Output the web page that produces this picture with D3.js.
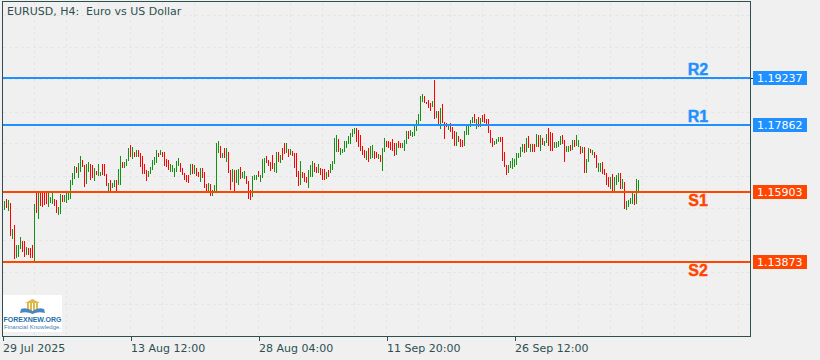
<!DOCTYPE html>
<html>
<head>
<meta charset="utf-8">
<style>
  html, body { margin: 0; padding: 0; background: #f0f0f0; }
  svg { display: block; }
  text { white-space: pre; font-family: "DejaVu Sans", sans-serif; }
</style>
<script src="https://cdn.jsdelivr.net/npm/d3@7/dist/d3.min.js"></script>
</head>
<body>
<svg width="820" height="360"></svg>
<script>
var title = "EURUSD, H4:  Euro vs US Dollar";

// bar high / low, 10 bars a row
var highs = [
  1.1565,1.1571,1.1568,1.1559,1.1483,1.1496,1.1437,1.1437,1.1460,1.1448,
  1.1448,1.1431,1.1428,1.1428,1.1437,1.1556,1.1588,1.1594,1.1594,1.1588,
  1.1588,1.1588,1.1588,1.1577,1.1588,1.1571,1.1568,1.1547,1.1585,1.1582,
  1.1582,1.1588,1.1588,1.1626,1.1647,1.1667,1.1664,1.1676,1.1696,1.1685,
  1.1670,1.1673,1.1679,1.1673,1.1670,1.1661,1.1652,1.1673,1.1650,1.1673,
  1.1673,1.1644,1.1617,1.1626,1.1617,1.1626,1.1626,1.1658,1.1696,1.1679,
  1.1679,1.1687,1.1720,1.1728,1.1722,1.1708,1.1714,1.1714,1.1705,1.1696,
  1.1673,1.1655,1.1652,1.1664,1.1685,1.1693,1.1714,1.1705,1.1714,1.1708,
  1.1708,1.1687,1.1685,1.1673,1.1670,1.1661,1.1682,1.1690,1.1676,1.1661,
  1.1647,1.1641,1.1641,1.1673,1.1673,1.1670,1.1661,1.1650,1.1661,1.1661,
  1.1650,1.1615,1.1617,1.1615,1.1597,1.1612,1.1734,1.1740,1.1725,1.1705,
  1.1720,1.1720,1.1708,1.1655,1.1658,1.1655,1.1655,1.1658,1.1664,1.1650,
  1.1652,1.1638,1.1623,1.1597,1.1638,1.1641,1.1641,1.1652,1.1641,1.1687,
  1.1690,1.1696,1.1685,1.1679,1.1699,1.1676,1.1708,1.1708,1.1699,1.1720,
  1.1734,1.1734,1.1717,1.1717,1.1711,1.1705,1.1705,1.1652,1.1682,1.1650,
  1.1647,1.1635,1.1655,1.1670,1.1682,1.1676,1.1664,1.1673,1.1661,1.1658,
  1.1658,1.1650,1.1655,1.1673,1.1682,1.1749,1.1757,1.1746,1.1720,1.1717,
  1.1740,1.1740,1.1755,1.1763,1.1775,1.1778,1.1778,1.1772,1.1757,1.1725,
  1.1714,1.1711,1.1720,1.1725,1.1728,1.1711,1.1708,1.1702,1.1699,1.1720,
  1.1749,1.1740,1.1740,1.1737,1.1746,1.1734,1.1734,1.1740,1.1734,1.1734,
  1.1743,1.1769,1.1769,1.1772,1.1766,1.1787,1.1801,1.1819,1.1871,1.1877,
  1.1871,1.1854,1.1860,1.1851,1.1857,1.1918,1.1827,1.1827,1.1836,1.1848,
  1.1795,1.1792,1.1790,1.1792,1.1781,1.1769,1.1766,1.1755,1.1746,1.1743,
  1.1769,1.1787,1.1787,1.1801,1.1810,1.1819,1.1804,1.1810,1.1807,1.1816,
  1.1819,1.1804,1.1804,1.1772,1.1749,1.1740,1.1746,1.1752,1.1752,1.1752,
  1.1708,1.1670,1.1670,1.1682,1.1690,1.1687,1.1705,1.1705,1.1722,1.1731,
  1.1731,1.1749,1.1755,1.1731,1.1731,1.1731,1.1760,1.1757,1.1757,1.1749,
  1.1740,1.1760,1.1778,1.1766,1.1763,1.1737,1.1737,1.1740,1.1755,1.1757,
  1.1743,1.1725,1.1725,1.1728,1.1743,1.1743,1.1757,1.1743,1.1725,1.1722,
  1.1722,1.1687,1.1720,1.1717,1.1714,1.1708,1.1699,1.1676,1.1676,1.1679,
  1.1658,1.1647,1.1635,1.1635,1.1644,1.1635,1.1641,1.1647,1.1647,1.1629,
  1.1620,1.1565,1.1568,1.1574,1.1588,1.1585,1.1629,1.1626
];
var lows = [
  1.1539,1.1545,1.1536,1.1463,1.1454,1.1396,1.1399,1.1402,1.1425,1.1416,
  1.1402,1.1408,1.1408,1.1399,1.1399,1.1390,1.1530,1.1513,1.1550,1.1547,
  1.1553,1.1556,1.1547,1.1559,1.1556,1.1550,1.1530,1.1524,1.1527,1.1562,
  1.1562,1.1559,1.1568,1.1571,1.1612,1.1629,1.1647,1.1632,1.1650,1.1664,
  1.1606,1.1615,1.1650,1.1626,1.1632,1.1623,1.1641,1.1638,1.1638,1.1641,
  1.1638,1.1609,1.1594,1.1594,1.1603,1.1606,1.1594,1.1612,1.1612,1.1661,
  1.1661,1.1667,1.1682,1.1693,1.1687,1.1693,1.1693,1.1693,1.1664,1.1644,
  1.1644,1.1623,1.1635,1.1644,1.1655,1.1670,1.1676,1.1693,1.1699,1.1693,
  1.1667,1.1664,1.1655,1.1650,1.1650,1.1635,1.1650,1.1667,1.1650,1.1641,
  1.1626,1.1620,1.1617,1.1641,1.1644,1.1644,1.1638,1.1635,1.1620,1.1632,
  1.1603,1.1591,1.1594,1.1580,1.1580,1.1591,1.1588,1.1705,1.1690,1.1690,
  1.1690,1.1679,1.1647,1.1597,1.1620,1.1594,1.1617,1.1612,1.1629,1.1632,
  1.1629,1.1615,1.1571,1.1568,1.1577,1.1626,1.1626,1.1635,1.1620,1.1632,
  1.1647,1.1676,1.1667,1.1652,1.1658,1.1650,1.1647,1.1679,1.1676,1.1685,
  1.1702,1.1705,1.1693,1.1699,1.1696,1.1661,1.1635,1.1609,1.1612,1.1632,
  1.1620,1.1617,1.1603,1.1635,1.1635,1.1650,1.1647,1.1647,1.1641,1.1626,
  1.1626,1.1629,1.1635,1.1647,1.1655,1.1673,1.1708,1.1708,1.1699,1.1705,
  1.1708,1.1720,1.1731,1.1731,1.1752,1.1760,1.1737,1.1722,1.1711,1.1699,
  1.1690,1.1685,1.1679,1.1687,1.1690,1.1687,1.1690,1.1687,1.1679,1.1652,
  1.1708,1.1722,1.1720,1.1714,1.1711,1.1696,1.1699,1.1720,1.1720,1.1720,
  1.1711,1.1731,1.1746,1.1755,1.1752,1.1755,1.1769,1.1787,1.1798,1.1854,
  1.1851,1.1848,1.1836,1.1827,1.1839,1.1804,1.1807,1.1787,1.1775,1.1792,
  1.1746,1.1781,1.1772,1.1766,1.1746,1.1725,1.1725,1.1737,1.1722,1.1722,
  1.1725,1.1757,1.1757,1.1781,1.1792,1.1792,1.1775,1.1781,1.1781,1.1795,
  1.1792,1.1790,1.1763,1.1734,1.1722,1.1728,1.1731,1.1737,1.1737,1.1682,
  1.1664,1.1641,1.1647,1.1661,1.1658,1.1664,1.1670,1.1690,1.1693,1.1708,
  1.1705,1.1708,1.1720,1.1708,1.1708,1.1708,1.1722,1.1722,1.1711,1.1728,
  1.1725,1.1734,1.1725,1.1711,1.1711,1.1720,1.1720,1.1722,1.1728,1.1731,
  1.1679,1.1708,1.1708,1.1711,1.1714,1.1722,1.1725,1.1722,1.1702,1.1705,
  1.1647,1.1647,1.1679,1.1705,1.1699,1.1690,1.1661,1.1650,1.1650,1.1644,
  1.1641,1.1612,1.1606,1.1600,1.1594,1.1594,1.1612,1.1620,1.1600,1.1600,
  1.1542,1.1539,1.1547,1.1556,1.1556,1.1553,1.1556,1.1588
];
// G = green bar, R = red bar
var directions = (
  "GRGRGRGGGR" + "RGRRRGRGRR" + "RRGGGRRGGR" + "GGGGGGRGGR" +
  "RGGRRGRGGR" + "RRGRGGRGGR" + "GGGRGRGRRR" + "RRGGGGGRGR" +
  "RRRGGGGGRR" + "RRRGRGRRGR" + "RRGRGGGGRG" + "RGRRGRGGRG" +
  "GRRRGGGRGG" + "GRRRRGGRGR" + "RGRGRRRRGR" + "RRGGGRRGRR" +
  "RGRGGGGRGG" + "GGGGGGRRRR" + "RGRGGRRGRG" + "GRRRRRGRRG" +
  "GGRGGGGGGG" + "RRRRGRGRGR" + "RRGRRRGRRR" + "GGGGGRGRGR" +
  "RRRRRGGGRR" + "RRGGGGGGGG" + "RGRGRRGRGR" + "GGRRRGGGGR" +
  "RGGRGRGGRG" + "RGGRGRRGGR" + "RRRGRGGGRG" + "RGGGGRGG"
).split("");

var levelNames = ["R2", "R1", "S1", "S2"];
var levelValues = [1.19237, 1.17862, 1.15903, 1.13873];
var levelLabels = ["1.19237", "1.17862", "1.15903", "1.13873"];
var levelColors = ["#1E90FF", "#1E90FF", "#FF4500", "#FF4500"];

var timeTicks = [-1, 63, 127, 191, 255];
var timeLabels = ["29 Jul 2025", "13 Aug 12:00", "28 Aug 04:00", "11 Sep 20:00", "26 Sep 12:00"];
var gridBars = [15, 31, 47, 63, 79, 95, 111, 127, 143, 159, 175, 191, 207, 223, 239, 255, 271, 287, 303, 319, 335, 351, 367];
var gridPrices = [1.2107, 1.2013, 1.1920, 1.1826, 1.1733, 1.1639, 1.1545, 1.1451, 1.1358, 1.1264];

var frameColor = "#2F4F4F";
var left = 2.5, right = 750.5, top_ = 1.5, bottom = 336.5;

var svg = d3.select("svg");

var xScale = d3.scaleLinear().domain([0, 317]).range([4.5, 638.5]);
var yScale = d3.scaleLinear().domain([1.19237, 1.13873]).range([78, 262]);
// level lines sit on whole pixels
var levelY = (d) => Math.round(yScale(d) + 0.12);

// grid
svg.append("g").selectAll("line").data(gridBars).enter().append("line")
  .attr("x1", (d) => xScale(d)).attr("x2", (d) => xScale(d))
  .attr("y1", top_).attr("y2", bottom)
  .style("stroke", "#e6e6e6").style("stroke-dasharray", "3,3")
  .style("shape-rendering", "crispEdges");
svg.append("g").selectAll("line").data(gridPrices).enter().append("line")
  .attr("x1", left).attr("x2", right)
  .attr("y1", (d) => Math.round(yScale(d)) + 0.5).attr("y2", (d) => Math.round(yScale(d)) + 0.5)
  .style("stroke", "#e6e6e6").style("stroke-dasharray", "3,3")
  .style("shape-rendering", "crispEdges");

// bars
svg.append("g").selectAll("line").data(highs).enter().append("line")
  .attr("x1", (d, i) => xScale(i)).attr("x2", (d, i) => xScale(i))
  .attr("y1", (d) => yScale(d)).attr("y2", (d, i) => yScale(lows[i]))
  .style("stroke", (d, i) => directions[i] == "G" ? "#159015" : "#FF0000")
  .style("stroke-width", "1px")
  .style("shape-rendering", "crispEdges");

// support / resistance lines
svg.append("g").selectAll("line").data(levelValues).enter().append("line")
  .attr("x1", left).attr("x2", right)
  .attr("y1", levelY).attr("y2", levelY)
  .style("stroke", (d, i) => levelColors[i])
  .style("stroke-width", "2px");

svg.append("g").selectAll("text").data(levelNames).enter().append("text")
  .attr("x", 698)
  .attr("y", (d, i) => levelY(levelValues[i]) + (i < 2 ? -3 : 14))
  .attr("text-anchor", "middle")
  .style("font-family", '"Liberation Sans", sans-serif')
  .style("font-weight", "bold").style("font-size", "16px")
  .style("fill", (d, i) => levelColors[i])
  .style("stroke", (d, i) => levelColors[i]).style("stroke-width", "0.4px")
  .text((d) => d);

// frame
svg.append("rect")
  .attr("x", left).attr("y", top_)
  .attr("width", right - left).attr("height", bottom - top_)
  .style("fill", "none").style("stroke", frameColor)
  .style("shape-rendering", "crispEdges");

// price boxes on the right
var boxes = svg.append("g").selectAll("g").data(levelValues).enter().append("g")
  .attr("transform", (d) => "translate(753," + (levelY(d) - 7) + ")");
boxes.append("rect").attr("width", 54).attr("height", 14)
  .style("fill", (d, i) => levelColors[i]);
boxes.append("text").attr("x", 4).attr("y", 11)
  .style("font-size", "11px").style("fill", "#ffffff")
  .text((d, i) => levelLabels[i]);
svg.append("line")
  .attr("x1", right).attr("x2", 753)
  .attr("y1", yScale(levelValues[0])).attr("y2", yScale(levelValues[0]))
  .style("stroke", "#222").style("shape-rendering", "crispEdges");

// time axis
var xAxis = d3.axisBottom(xScale)
  .tickValues(timeTicks)
  .tickSize(4).tickSizeOuter(0)
  .tickFormat((d, i) => timeLabels[i]);
var xg = svg.append("g").attr("transform", "translate(0," + bottom + ")").call(xAxis);
xg.select(".domain").remove();
xg.selectAll("line").style("stroke", frameColor).style("shape-rendering", "crispEdges");
xg.selectAll("text")
  .attr("text-anchor", "start").attr("x", 0).attr("dy", null).attr("y", 15.5)
  .style("font-size", "11px").style("fill", frameColor);

// title
svg.append("text").attr("x", 7).attr("y", 15)
  .style("font-size", "11px").style("fill", frameColor)
  .text(title);

// logo
var logo = svg.append("g");
logo.append("rect").attr("x", 3).attr("y", 295).attr("width", 59).attr("height", 37).style("fill", "#ffffff");
logo.append("path").attr("d", "M25 303 L32.5 299 L40 303 Z").style("fill", "#e0b84a");
logo.selectAll(".col").data([27, 30, 33, 36]).enter().append("rect").attr("class", "col")
  .attr("x", (d) => d).attr("y", 303).attr("width", 2).attr("height", 8).style("fill", "#e0b84a");
logo.append("path").attr("d", "M20 313 L21 309 Q27 307 32.5 311 Q38 307 44 309 L45 313 Q38 311 32.5 314 Q27 311 20 313 Z").style("fill", "#4a86c0");
logo.append("text").attr("x", 32.5).attr("y", 321.5).attr("text-anchor", "middle")
  .style("font-family", '"Liberation Sans", sans-serif').style("font-weight", "bold").style("font-size", "7px").style("fill", "#1f6fa8")
  .text("FOREXNEW.ORG");
logo.append("text").attr("x", 32.5).attr("y", 329).attr("text-anchor", "middle")
  .style("font-family", '"Liberation Sans", sans-serif').style("font-size", "6px").style("fill", "#3d7fb5")
  .text("Financial Knowledge.");
</script>
</body>
</html>
